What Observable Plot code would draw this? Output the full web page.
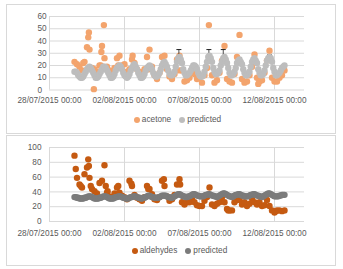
<!DOCTYPE html>
<html><head><meta charset="utf-8">
<script src="https://cdn.jsdelivr.net/npm/d3@7"></script>
<script src="https://cdn.jsdelivr.net/npm/@observablehq/plot@0.6"></script>
<style>
body{margin:0;background:#fff;width:343px;height:269px;position:relative;overflow:hidden;color:#595959;}
.panel{position:absolute;border:1px solid #d9d9d9;box-sizing:border-box;}
.chart{position:absolute;left:0;}
.legend{position:absolute;width:343px;display:flex;justify-content:center;line-height:12px;}
.item{display:flex;align-items:center;margin:0 4px;}
.sw{width:6px;height:6px;border-radius:50%;margin-right:2px;display:inline-block;}
</style></head>
<body>
<div class="panel" style="left:6px;top:4px;width:330px;height:130px;"></div>
<div class="panel" style="left:6px;top:135px;width:330px;height:131px;"></div>
<div id="c1" class="chart" style="top:0px"></div>
<div id="c2" class="chart" style="top:135px"></div>
<div id="l1" class="legend" style="top:114px;left:6px;"></div>
<div id="l2" class="legend" style="top:245px;left:8px;"></div>
<script>
// ---- data ----
// measured series: regular 4-hour sampling starting 29/07/2015 16:00 (UTC), 85 samples
const measuredStart = "2015-07-29T16:00Z";
const measuredStepHours = 4;
// predicted series: regular 2-hour sampling starting 29/07/2015 16:00 (UTC), 169 samples
const predictedStart = "2015-07-29T16:00Z";
const predictedStepHours = 2;

const acetone = [23,21,
 19,16,23,35,33,18,
 17,15,20,36,26,19,
 16,14,18,26,28,20,
 21,15,17,25,22,17,
 15,13,17,27,33,19,
 12,9,14,27,28,17,
 11,9,13,25,28,16,
 7,8,10,14,13,9,
 10,6,12,18,24,12,
 6,8,14,24,36,9,
 7,6,13,27,45,9,
 6,7,12,19,29,10,
 7,8,14,24,32,10,
 7,7,10,12,16];
const acetonePredicted = [15,15,14,12,
 11,10,10,11,13,15,17,18,19,18,16,14,
 12,10,10,11,13,15,17,19,19,18,16,14,
 12,10,10,11,13,16,18,19,20,19,17,14,
 12,11,10,11,13,16,18,20,21,19,17,14,
 12,10,10,11,13,16,18,19,20,19,17,14,
 12,11,11,12,14,17,20,22,23,21,19,16,
 13,12,12,13,15,19,23,26,27,25,22,17,
 14,12,12,13,14,16,18,20,20,19,17,14,
 12,11,11,12,15,19,23,27,28,26,23,18,
 15,13,13,14,16,20,23,26,27,25,22,18,
 14,12,12,13,15,18,22,24,25,23,21,17,
 14,12,12,13,15,19,23,25,26,24,22,17,
 14,12,12,13,16,20,24,26,27,26,23,18,
 15,12,12,13,14,16,18,19,20];
const acetoneExtraTimes = ["2015-07-30T06:00","2015-07-30T14:00","2015-07-30T15:00","2015-07-30T23:00","2015-07-31T10:00","2015-07-31T11:00","2015-07-31T15:00","2015-08-01T14:00","2015-08-02T13:00","2015-08-03T15:00","2015-08-05T16:00","2015-08-07T15:00","2015-08-08T14:00","2015-08-10T22:00"];
const acetoneExtraValues = [22,43,47,0.7,20,31,53,20,28,17,16,53,24,5];

const aldehydes = [89,59,
 50,46,64,73,59,44,
 41,38,52,55,76,39,
 34,33,38,46,39,35,
 33,30,55,48,36,32,
 30,28,33,48,44,37,
 30,29,33,55,48,34,
 28,30,36,50,57,26,
 23,26,26,30,26,22,
 21,21,28,33,46,23,
 21,24,26,33,26,17,
 15,15,26,29,29,23,
 26,21,24,31,26,23,
 26,21,22,29,21,15,
 12,15,15,14,15];
const aldehydesPredicted = [33,33,32,32,
 31,31,31,31,32,32,33,34,34,34,33,32,
 31,31,31,31,32,32,33,34,34,34,33,32,
 31,31,31,31,32,33,33,34,34,34,33,32,
 32,31,31,31,32,33,33,34,34,34,33,32,
 32,31,31,32,32,33,34,35,35,34,33,33,
 32,32,32,32,33,34,35,35,35,35,34,33,
 33,32,32,33,34,35,36,37,37,36,35,34,
 34,33,33,34,34,35,36,37,37,36,35,35,
 34,34,34,34,35,36,36,37,37,36,35,35,
 34,34,33,34,35,36,37,38,38,37,36,35,
 34,34,33,34,35,36,36,37,37,36,35,35,
 34,34,34,34,35,36,36,37,37,36,35,35,
 34,34,33,34,35,36,37,38,38,37,36,35,
 34,34,34,34,35,35,36,36,36];
const aldehydesExtraTimes = ["2015-07-29T18:00","2015-07-30T02:00","2015-07-30T14:00","2015-07-30T15:00","2015-07-30T18:00","2015-07-31T18:00","2015-07-31T21:00","2015-08-01T14:00","2015-08-02T11:00","2015-08-03T14:00","2015-08-04T15:00","2015-08-05T17:00","2015-08-08T22:00","2015-08-12T02:00"];
const aldehydesExtraValues = [71,48,84,75,48,48,41,48,51,44,57,50,15,14];

// error bars on a few predicted acetone peaks
const errTimes = ["2015-08-05T15:00","2015-08-07T15:00","2015-08-08T14:00","2015-08-11T16:00"];
const errLow = [27,28,27,27];
const errHigh = [33,33,33,28.7];

const xDomain = ["2015-07-28","2015-08-14"];
const xTickDates = ["2015-07-28","2015-08-02","2015-08-07","2015-08-12"];
const acetoneYTicks = [0,10,20,30,40,50,60];
const aldehydesYTicks = [0,20,40,60,80,100];

const seriesNames = {top: ["acetone","predicted"], bottom: ["aldehydes","predicted"]};
const colors = {acetone:"#F3A46D", acetonePred:"#BDBDBD", aldehydes:"#C55A11", aldehydesPred:"#7B7B7B"};

// ---- font sizing (fit Excel-like narrow text) ----
const fontStack = '"Liberation Sans Narrow","Arial Narrow","Liberation Sans",Arial,sans-serif';
const cv = document.createElement("canvas").getContext("2d");
function fitSize(text, target) { cv.font = "10px " + fontStack; return 10 * target / cv.measureText(text).width; }
const axisFont = Math.min(9, fitSize("28/07/2015 00:00", 64));
const legendFont = Math.min(10, fitSize("predicted", 34));
document.body.style.fontFamily = fontStack;

// ---- build tables ----
const series = (start, step, vals) => { const t0 = new Date(start).getTime(); return vals.map((v,i) => ({t: new Date(t0 + i*step*3600e3), v})); };
const extra = (ts, vs) => ts.map((s,i) => ({t: new Date(s + "Z"), v: vs[i]}));
const parseDay = s => new Date(s + "T00:00Z");
const fmt = d3.utcFormat("%d/%m/%Y %H:%M");
const dash = {draw(ctx){ ctx.moveTo(-2.5,0); ctx.lineTo(2.5,0); }};

function make({meas, pred, mColor, pColor, yTicks, mt, mb, h, yAnchor, yPad, xPad, err}) {
  const marks = [
    Plot.gridY(yTicks, {stroke:"#d9d9d9", strokeOpacity:1}),
    Plot.gridX(xTickDates.map(parseDay), {stroke:"#d9d9d9", strokeOpacity:1}),
    Plot.axisY(yTicks, {tickSize:0, tickPadding:yPad, textAnchor:yAnchor, tickFormat:d=>d, label:null}),
    Plot.axisX(xTickDates.map(parseDay), {tickSize:0, tickPadding:xPad, tickFormat:fmt, label:null}),
    Plot.dot(meas, {x:"t", y:"v", r:3.2, fill:mColor})
  ];
  if (err) {
    marks.push(Plot.ruleX(err, {x:"t", y1:"lo", y2:"hi", stroke:"#222", strokeWidth:0.8}));
    marks.push(Plot.dot(err, {x:"t", y:"hi", symbol:dash, stroke:"#222", strokeWidth:1, r:3}));
  }
  marks.push(Plot.dot(pred, {x:"t", y:"v", r:3.2, fill:pColor}));
  return Plot.plot({
    width:343, height:h, marginLeft:49, marginRight:39, marginTop:mt, marginBottom:mb,
    style:{fontFamily:fontStack, fontSize:axisFont+"px", color:"#595959", background:"transparent", overflow:"visible"},
    x:{type:"utc", domain:xDomain.map(parseDay), label:null},
    y:{domain:[yTicks[0], yTicks[yTicks.length-1]], label:null},
    marks
  });
}

const errData = errTimes.map((s,i) => ({t:new Date(s+"Z"), lo:errLow[i], hi:errHigh[i]}));

document.getElementById("c1").append(make({
  meas: series(measuredStart, measuredStepHours, acetone).concat(extra(acetoneExtraTimes, acetoneExtraValues)),
  pred: series(predictedStart, predictedStepHours, acetonePredicted),
  mColor: colors.acetone, pColor: colors.acetonePred, yTicks: acetoneYTicks,
  mt:16, mb:20.5, h:110, yAnchor:"start", yPad:12, xPad:7, err: errData
}));
document.getElementById("c2").append(make({
  meas: series(measuredStart, measuredStepHours, aldehydes).concat(extra(aldehydesExtraTimes, aldehydesExtraValues)),
  pred: series(predictedStart, predictedStepHours, aldehydesPredicted),
  mColor: colors.aldehydes, pColor: colors.aldehydesPred, yTicks: aldehydesYTicks,
  mt:12, mb:24, h:110, yAnchor:"end", yPad:8, xPad:8.5, err: null
}));

function legend(id, names, cols) {
  const el = document.getElementById(id);
  el.style.fontSize = legendFont + "px";
  names.forEach((n,i) => {
    const it = document.createElement("span"); it.className = "item";
    const sw = document.createElement("span"); sw.className = "sw"; sw.style.background = cols[i];
    it.append(sw, document.createTextNode(n));
    el.append(it);
  });
}
legend("l1", seriesNames.top, [colors.acetone, colors.acetonePred]);
legend("l2", seriesNames.bottom, [colors.aldehydes, colors.aldehydesPred]);
</script>
</body></html>
